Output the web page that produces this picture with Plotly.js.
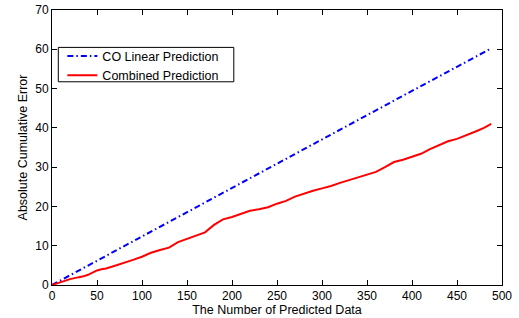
<!DOCTYPE html>
<html>
<head>
<meta charset="utf-8">
<script src="https://cdn.plot.ly/plotly-3.0.1.min.js"></script>
<style>html,body{margin:0;padding:0;background:#fff;}#chart{width:519px;height:318px;}</style>
</head>
<body>
<div id="chart"></div>
<script>
// Data
const linearX = [0, 100, 200, 300, 400, 487];
const linearY = [0, 12.4, 24.7, 37.1, 49.4, 60.1];

const combinedX = [0, 10, 20, 30, 35, 40, 50, 55, 60, 70, 80, 90, 100, 110, 120, 130, 140, 150, 160, 170,
  180, 190, 200, 210, 220, 230, 240, 250, 260, 270, 280, 290, 300, 310, 320, 330, 340, 350, 360, 370,
  380, 390, 400, 410, 420, 430, 440, 450, 460, 470, 480, 488];
const combinedY = [0, 0.8, 1.5, 2.0, 2.2, 2.6, 3.7, 4.0, 4.2, 4.9, 5.6, 6.4, 7.2, 8.2, 8.9, 9.5, 10.9, 11.8, 12.6, 13.4,
  15.3, 16.7, 17.3, 18.1, 18.9, 19.3, 19.8, 20.7, 21.4, 22.5, 23.3, 24.0, 24.6, 25.2, 26.0, 26.7, 27.4, 28.0, 28.8, 30.0,
  31.3, 31.9, 32.6, 33.4, 34.6, 35.6, 36.6, 37.2, 38.0, 39.0, 40.0, 41.0];

const seriesNames = ['CO Linear Prediction', 'Combined Prediction'];
const xTicks = [0, 50, 100, 150, 200, 250, 300, 350, 400, 450, 500];
const yTicks = [0, 10, 20, 30, 40, 50, 60, 70];

const font = {family: 'Liberation Sans, Arial, Helvetica, sans-serif', size: 12, color: '#000'};
const titleFont = {family: 'Liberation Sans, Arial, Helvetica, sans-serif', size: 12.5, color: '#000'};

const traces = [
  {x: linearX, y: linearY, name: seriesNames[0], mode: 'lines',
   line: {color: '#0000ff', width: 2, dash: '6px,3px,1.5px,3px'}},
  {x: combinedX, y: combinedY, name: seriesNames[1], mode: 'lines',
   line: {color: '#ff0000', width: 2, shape: 'linear'}}
];

const axisCommon = {
  showgrid: false, zeroline: false, showline: true, linecolor: '#000', linewidth: 1,
  mirror: 'ticks', ticks: 'inside', ticklen: 5, tickcolor: '#000', tickwidth: 1,
  tickfont: font
};

const layout = {
  width: 519, height: 318,
  margin: {l: 52, r: 17, t: 10, b: 33},
  paper_bgcolor: '#fff', plot_bgcolor: '#fff',
  font: font,
  showlegend: true,
  legend: {x: 0.023, y: 0.886, xanchor: 'left', yanchor: 'top',
    bgcolor: 'rgba(0,0,0,0)', borderwidth: 0,
    font: titleFont, tracegroupgap: 0},
  shapes: [{type: 'rect', xref: 'paper', yref: 'paper', x0: 0.014, x1: 0.404, y0: 0.739, y1: 0.864,
    line: {color: '#000', width: 1}, fillcolor: '#fff', layer: 'above'}],
  xaxis: Object.assign({}, axisCommon, {range: [0, 500], tickvals: xTicks, ticktext: xTicks.map(String),
    title: {text: 'The Number of Predicted Data', font: titleFont, standoff: 2}}),
  yaxis: Object.assign({}, axisCommon, {range: [0, 70], tickvals: yTicks, ticktext: yTicks.map(String),
    title: {text: 'Absolute Cumulative Error', font: titleFont, standoff: 4}})
};

Plotly.newPlot('chart', traces, layout, {displayModeBar: false, staticPlot: true});
</script>
</body>
</html>
